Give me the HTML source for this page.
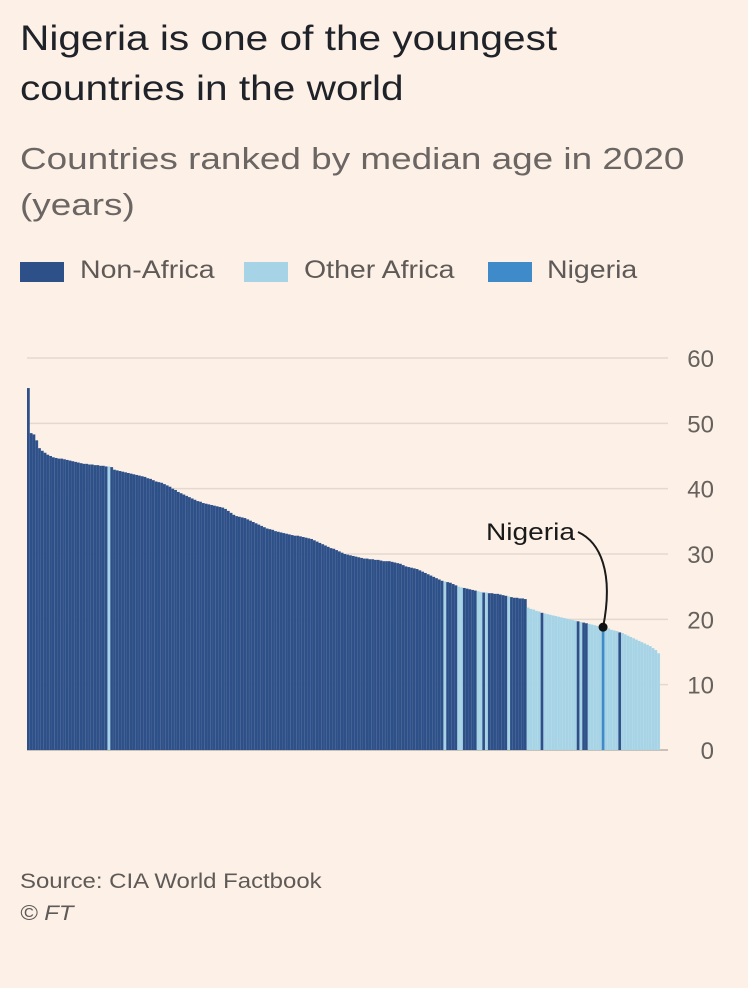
<!DOCTYPE html>
<html><head><meta charset="utf-8"><style>
body{margin:0;background:#fdf1e7;}
#wrap{position:relative;width:748px;height:988px;background:#fdf1e7;font-family:"Liberation Sans",sans-serif;overflow:hidden}
.t{position:absolute;white-space:nowrap;transform-origin:0 50%}
</style></head><body>
<div id="wrap">
<div class="t" style="left:20px;top:14px;font-size:35px;line-height:50px;color:#1f2228;transform:scaleX(1.16)">Nigeria is one of the youngest<br>countries in the world</div>
<div class="t" style="left:20px;top:136px;font-size:31px;line-height:46px;color:#6b6663;transform:scaleX(1.19)">Countries ranked by median age in 2020<br>(years)</div>
<div>
<div style="position:absolute;left:20px;top:262px;width:44px;height:20px;background:#2e5089"></div>
<div class="t" style="left:80px;top:256px;font-size:25px;color:#5f5a57;transform:scaleX(1.14)">Non-Africa</div>
<div style="position:absolute;left:244px;top:262px;width:44px;height:20px;background:#a6d4e6"></div>
<div class="t" style="left:304px;top:256px;font-size:25px;color:#5f5a57;transform:scaleX(1.14)">Other Africa</div>
<div style="position:absolute;left:488px;top:262px;width:44px;height:20px;background:#3f8bc9"></div>
<div class="t" style="left:547px;top:256px;font-size:25px;color:#5f5a57;transform:scaleX(1.14)">Nigeria</div>
</div>
<svg id="chart" width="748" height="988" style="position:absolute;left:0;top:0"></svg>
<div class="t" style="left:20px;top:870px;font-size:21px;color:#5f5a57;transform:scaleX(1.14)">Source: CIA World Factbook</div>
<div class="t" style="left:20px;top:902px;font-size:21px;color:#5f5a57;font-style:italic;transform:scaleX(1.14)">© FT</div>
</div>
<script>
const yTicks=[0,10,20,30,40,50,60];
const medianAges=[55.4,48.5,48.3,47.4,46.2,45.8,45.5,45.2,45.0,44.8,
44.7,44.6,44.6,44.5,44.4,44.3,44.2,44.1,44.0,43.9,
43.8,43.8,43.7,43.7,43.6,43.6,43.5,43.5,43.4,43.4,
43.3,42.9,42.8,42.7,42.6,42.5,42.4,42.3,42.2,42.1,
42.0,41.9,41.8,41.6,41.5,41.3,41.1,41.0,40.9,40.7,
40.5,40.3,40.0,39.8,39.5,39.3,39.1,38.9,38.7,38.5,
38.3,38.1,38.0,37.8,37.7,37.6,37.5,37.4,37.3,37.2,
37.1,36.9,36.6,36.3,36.0,35.8,35.7,35.6,35.5,35.3,
35.1,34.9,34.7,34.5,34.3,34.1,33.9,33.8,33.7,33.5,
33.4,33.3,33.2,33.1,33.0,32.9,32.8,32.8,32.7,32.6,
32.5,32.4,32.3,32.1,31.9,31.7,31.5,31.3,31.1,30.9,
30.8,30.6,30.4,30.2,30.0,29.9,29.8,29.7,29.6,29.5,
29.4,29.3,29.3,29.2,29.2,29.1,29.1,29.0,28.9,28.9,
28.9,28.8,28.7,28.6,28.5,28.3,28.1,28.0,27.9,27.8,
27.7,27.5,27.3,27.1,26.9,26.7,26.5,26.3,26.1,25.9,
25.8,25.7,25.6,25.4,25.2,25.0,24.9,24.8,24.7,24.6,
24.5,24.4,24.3,24.2,24.1,24.1,24.0,24.0,23.9,23.9,
23.8,23.7,23.6,23.5,23.4,23.3,23.3,23.2,23.2,23.1,
21.8,21.6,21.5,21.3,21.2,21.0,20.9,20.8,20.7,20.6,
20.5,20.4,20.3,20.2,20.1,20.0,19.9,19.8,19.7,19.6,
19.5,19.4,19.3,19.2,19.1,19.0,18.9,18.8,18.7,18.6,
18.4,18.3,18.2,18.0,17.9,17.7,17.5,17.3,17.1,16.9,
16.7,16.5,16.3,16.1,15.9,15.6,15.3,14.8];
// African countries ranked among the older group (light bars before the African block)
const otherAfricaEarly=[29,150,155,156,162,163,165,173];
// first rank of the mostly-African block
const africaBlockStart=180;
// non-African countries within the African block
const nonAfricaLate=[185,198,200,201,213];
const nigeriaRank=207;
const colors={N:"#2e5089",A:"#a6d4e6",G:"#3f8bc9"};
function regionOf(i){
  if(i===nigeriaRank)return 'G';
  if(i>=africaBlockStart)return nonAfricaLate.includes(i)?'N':'A';
  return otherAfricaEarly.includes(i)?'A':'N';
}
const NS="http://www.w3.org/2000/svg";
const svg=document.getElementById('chart');
const x0=27,x1=660,yBase=750,yTop=358,vMax=60;
const n=medianAges.length;
const bw=(x1-x0)/n;
const yScale=v=>yBase-(v/vMax)*(yBase-yTop);
const xScale=i=>x0+i*bw;
function mk(tag,attrs){const e=document.createElementNS(NS,tag);for(const k in attrs)e.setAttribute(k,attrs[k]);svg.appendChild(e);return e;}
yTicks.forEach(t=>{
  const g=mk('line',{x1:27,x2:668,y1:yScale(t),y2:yScale(t),stroke:t===0?'#c9c0b8':'#e3d9cf','stroke-width':t===0?2:1.5});
  
  
  const l=mk('text',{x:714,y:yScale(t)+9,'text-anchor':'end','font-size':24,fill:'#66615d','font-family':'Liberation Sans, sans-serif'});
  l.textContent=t;
  
  
});
medianAges.forEach((v,i)=>{
  const r=regionOf(i);
  const b=mk('rect',{x:xScale(i),y:yScale(v),width:bw+0.05,height:yBase-yScale(v),fill:colors[r]});
  
  
  const s=mk('line',{x1:xScale(i)+bw,x2:xScale(i)+bw,y1:yScale(v),y2:yBase,stroke:'rgba(255,255,255,0.18)','stroke-width':0.5});
  
  
});
const nx=xScale(nigeriaRank)+bw/2, ny=yScale(medianAges[nigeriaRank]);
const p=mk('path',{d:`M578,532 C600,542 614,572 ${nx},${ny}`,fill:'none',stroke:'#1a1a1a','stroke-width':2});


const d=mk('circle',{cx:nx,cy:ny,r:4.5,fill:'#111'});


const at=mk('text',{x:486,y:540,'font-size':24,fill:'#1a1a1a','font-family':'Liberation Sans, sans-serif',textLength:89,lengthAdjust:'spacingAndGlyphs'});
at.textContent='Nigeria';


</script>
</body></html>
